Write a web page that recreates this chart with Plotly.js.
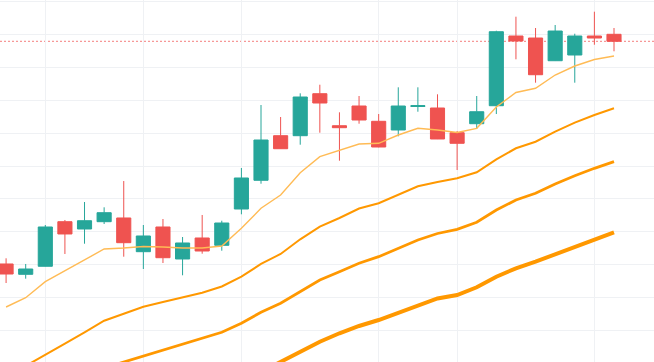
<!DOCTYPE html>
<html>
<head>
<meta charset="utf-8">
<script src="https://cdn.plot.ly/plotly-3.0.1.min.js"></script>
<style>
  html, body { margin: 0; padding: 0; background: #ffffff; }
  #chart { width: 654px; height: 362px; }
</style>
</head>
<body>
<div id="chart"></div>
<script>
// Candle index (0-based)
const idx = Array.from({length: 32}, (_, i) => i);

const opens  = [120.18,117.04,119.48,133.05,130.83,133.05,134.18,123.92,131.44,121.70,128.09,125.87,
                136.91,145.65,159.22,159.22,172.00,162.26,168.26,163.60,160.96,168.11,167.65,160.13,
                162.87,168.35,189.56,188.95,182.04,183.78,189.56,190.08];
const highs  = [121.91,120.18,132.04,133.57,139.04,137.43,145.43,132.04,133.87,128.39,135.09,133.35,
                149.39,168.56,164.91,172.12,174.74,166.34,171.30,165.82,173.95,173.95,171.82,160.65,
                171.30,191.17,195.44,192.00,192.91,190.26,196.96,192.00];
const lows   = [114.39,115.70,119.42,123.22,126.35,132.35,122.40,118.65,120.48,116.74,123.31,124.22,
                135.30,144.61,155.17,156.48,160.13,151.61,162.87,155.70,159.04,166.52,158.20,148.78,
                161.26,165.82,182.47,175.35,181.95,175.35,186.91,184.91];
const closes = [117.13,118.65,131.44,129.31,133.35,135.79,126.66,128.70,122.09,126.57,124.13,132.65,
                146.35,157.91,155.26,171.00,169.17,161.66,164.00,155.78,168.26,168.35,158.22,156.91,
                166.52,190.87,188.04,177.78,191.08,189.56,188.95,187.95];

// Moving-average lines (null = not on screen)
const ma1 = [107.09,109.92,114.79,118.05,121.39,124.74,125.05,125.50,125.35,125.05,125.05,125.65,
             131.04,137.13,141.17,147.96,152.83,154.66,156.69,156.91,159.43,161.47,160.96,160.19,
             161.47,167.95,172.37,173.65,177.69,180.43,182.41,183.47];
const ma2 = [85.79,89.14,92.39,95.92,99.39,102.92,105.05,107.18,108.61,110.04,111.44,113.33,
             116.31,120.18,123.22,127.69,131.53,134.18,137.07,138.65,141.33,143.82,145.13,146.26,
             148.08,152.04,155.39,157.39,160.44,163.18,165.52,167.56];
const ma3 = [null,null,null,null,null,88.53,90.35,92.18,94.00,95.83,97.75,99.39,
             102.13,105.48,108.22,111.75,115.31,117.83,120.39,122.40,124.95,127.48,129.46,130.74,
             132.87,136.61,139.65,141.69,144.52,147.05,149.30,151.31];
const ma4 = [null,null,null,null,null,null,null,null,null,null,null,null,
             null,87.31,90.35,93.49,96.53,99.09,101.31,103.13,105.26,107.70,109.68,110.74,
             113.09,116.31,118.87,120.88,123.13,125.44,127.69,129.82];

// Vertical grid positions (candle indices)
const xGridAt = [2, 7, 12, 19, 23, 30];

const lineSpec = [
  {y: ma4, color: '#ff9800', width: 4},
  {y: ma3, color: '#ff9800', width: 2.8},
  {y: ma2, color: '#ff9800', width: 2},
  {y: ma1, color: '#ffbb55', width: 1.4}
];

const traces = lineSpec.map(s => ({
  type: 'scatter', mode: 'lines', x: idx, y: s.y,
  line: {color: s.color, width: s.width}, connectgaps: false, hoverinfo: 'skip'
}));

traces.push({
  type: 'candlestick', x: idx, open: opens, high: highs, low: lows, close: closes,
  increasing: {line: {color: '#26a69a', width: 1}, fillcolor: '#26a69a'},
  decreasing: {line: {color: '#ef5350', width: 1}, fillcolor: '#ef5350'},
  whiskerwidth: 0, hoverinfo: 'skip'
});

const lastClose = closes[closes.length - 1];

const layout = {
  width: 654, height: 362,
  margin: {l: 0, r: 0, t: 0, b: 0},
  paper_bgcolor: '#ffffff', plot_bgcolor: '#ffffff',
  showlegend: false,
  hovermode: false,
  boxgap: 0.28,
  boxgroupgap: 0,
  xaxis: {
    type: 'linear', range: [-0.31, 33.04],
    tickvals: xGridAt, showticklabels: false, ticks: '',
    showgrid: true, gridcolor: '#eff1f4', gridwidth: 1,
    zeroline: false, showline: false,
    rangeslider: {visible: false}, fixedrange: true
  },
  yaxis: {
    range: [90.35, 200.52],
    tick0: 100, dtick: 10, showticklabels: false, ticks: '',
    showgrid: true, gridcolor: '#eff1f4', gridwidth: 1,
    zeroline: false, showline: false, fixedrange: true
  },
  shapes: [{
    type: 'line', xref: 'paper', x0: 0, x1: 1, yref: 'y', y0: lastClose, y1: lastClose,
    line: {color: 'rgba(239,83,80,0.75)', width: 1, dash: '2px,2px'}, layer: 'below'
  }]
};

Plotly.newPlot('chart', traces, layout, {staticPlot: true, displayModeBar: false});
</script>
</body>
</html>
